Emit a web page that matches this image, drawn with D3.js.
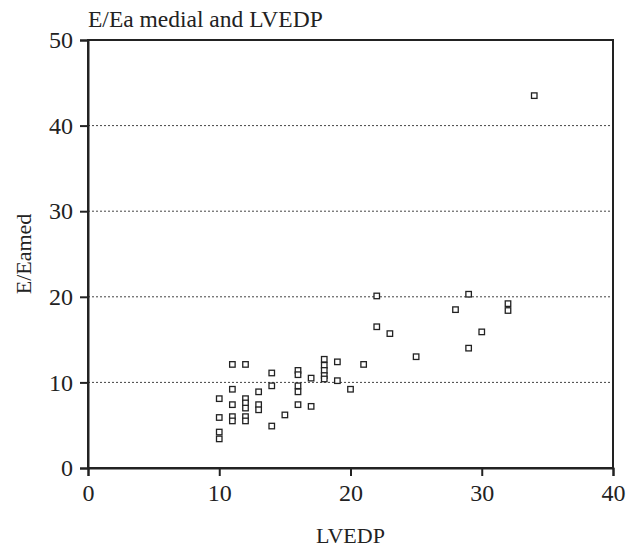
<!DOCTYPE html>
<html>
<head>
<meta charset="utf-8">
<script src="https://cdn.jsdelivr.net/npm/d3@7"></script>
<style>
  body { margin: 0; background: #fff; }
  text { font-family: "Liberation Serif", "Times New Roman", serif; fill: #222; }
</style>
</head>
<body>
<div id="chart"></div>
<script>
// LVEDP (x) and E/Ea medial (y)
const lvedp = [
  10, 10, 10, 10,
  11, 11, 11, 11, 11,
  12, 12, 12, 12, 12, 12,
  13, 13, 13,
  14, 14, 14,
  15,
  16, 16, 16, 16, 16,
  17, 17,
  18, 18, 18, 18, 18,
  19, 19,
  20, 21, 22, 22, 23, 25, 28, 29, 29, 30, 32, 32, 34
];
const eEaMed = [
  8.1, 5.9, 4.2, 3.4,
  12.1, 9.2, 7.4, 6.0, 5.5,
  12.1, 8.1, 7.6, 7.0, 6.0, 5.5,
  8.9, 7.4, 6.8,
  11.1, 9.6, 4.9,
  6.2,
  11.4, 10.9, 9.6, 8.9, 7.4,
  10.5, 7.2,
  12.7, 12.0, 11.4, 10.8, 10.4,
  12.4, 10.2,
  9.2, 12.1, 20.1, 16.5, 15.7, 13.0, 18.5, 20.3, 14.0, 15.9, 19.2, 18.4, 43.5
];
const xTicks = [0, 10, 20, 30, 40];
const yTicks = [0, 10, 20, 30, 40, 50];
const gridLines = [10, 20, 30, 40];

const width = 632, height = 549;
const margin = { top: 40, right: 19, bottom: 81, left: 88 };

const svg = d3.select("#chart")
  .append("svg")
  .attr("width", width)
  .attr("height", height);

const x = d3.scaleLinear().domain([0, 40]).range([margin.left, width - margin.right]);
const y = d3.scaleLinear().domain([0, 50]).range([height - margin.bottom, margin.top]);

// dotted horizontal grid
svg.append("g")
  .selectAll("line")
  .data(gridLines)
  .enter()
  .append("line")
  .attr("x1", x(0))
  .attr("x2", x(40))
  .attr("y1", d => y(d))
  .attr("y2", d => y(d))
  .attr("stroke", "#444")
  .attr("stroke-width", 1)
  .attr("stroke-dasharray", "2,2");

// frame round the plot
svg.append("rect")
  .attr("x", x(0))
  .attr("y", y(50))
  .attr("width", x(40) - x(0))
  .attr("height", y(0) - y(50))
  .attr("fill", "none")
  .attr("stroke", "#222")
  .attr("stroke-width", 2);

// axes
const xAxis = svg.append("g")
  .attr("transform", `translate(0,${y(0)})`)
  .call(d3.axisBottom(x).tickValues(xTicks).tickSize(8).tickPadding(8));

const yAxis = svg.append("g")
  .attr("transform", `translate(${x(0)},0)`)
  .call(d3.axisLeft(y).tickValues(yTicks).tickSize(8).tickPadding(7));

[xAxis, yAxis].forEach(g => {
  g.select(".domain").attr("stroke", "#222").attr("stroke-width", 2);
  g.selectAll(".tick line").attr("stroke", "#222").attr("stroke-width", 2);
  g.selectAll(".tick text")
    .style("font-family", '"Liberation Serif", "Times New Roman", serif')
    .style("font-size", "24px")
    .attr("fill", "#222");
});

// points: small open squares
const pts = lvedp.map((v, i) => ({ x: v, y: eEaMed[i] }));
const s = 5.5;
svg.append("g")
  .selectAll("rect")
  .data(pts)
  .enter()
  .append("rect")
  .attr("x", d => x(d.x) - s / 2)
  .attr("y", d => y(d.y) - s / 2)
  .attr("width", s)
  .attr("height", s)
  .attr("fill", "#fff")
  .attr("stroke", "#222")
  .attr("stroke-width", 1.3);

// titles
svg.append("text")
  .attr("x", x(0))
  .attr("y", 27)
  .style("font-size", "23.5px")
  .text("E/Ea medial and LVEDP");

svg.append("text")
  .attr("x", x(20))
  .attr("y", 543)
  .attr("text-anchor", "middle")
  .style("font-size", "22px")
  .text("LVEDP");

svg.append("text")
  .attr("transform", `translate(31,${y(25)}) rotate(-90)`)
  .attr("text-anchor", "middle")
  .style("font-size", "22px")
  .text("E/Eamed");
</script>
</body>
</html>
